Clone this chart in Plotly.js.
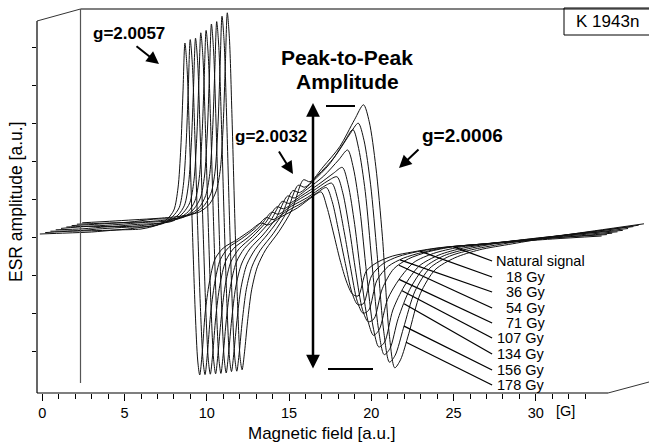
<!DOCTYPE html>
<html>
<head>
<meta charset="utf-8">
<script src="https://cdn.plot.ly/plotly-3.0.1.min.js"></script>
<style>html,body{margin:0;padding:0;background:#fff;}#chart{width:649px;height:442px;}</style>
</head>
<body>
<div id="chart"></div>
<script>
// ---- DATA (own-frame of each spectrum; field in a.u. "G", amplitude in a.u.) ----
const fieldGrid = [-0.15,1.5,3.0,4.5,6.0,7.0,7.6,8.0,8.25,8.42,8.55,8.67,8.8,8.95,9.12,9.3,9.45,9.57,9.72,9.9,10.15,10.5,11.0,11.8,12.6,13.3,13.7,14.5,15.5,16.4,16.95,17.3,17.7,18.1,18.5,18.85,19.2,19.7,20.4,21.3,22.5,24.0,26.0,28.5,31.0,34.0];

const natural = [159,160,161,163,164,168,174,183,205,245,300,350,325,255,165,80,32,18,40,80,110,134,145,153,162,170,168,176,185,196,201,186,160,133,111,99,97,122,131,137,141,145,148,151,154,157];
const gy18  = [159,160.5,161,162,165,168,175,184,206,247,302,352,327,257,166,80,31,17,39,76,108,132,144,153,163,174,172,180,189,199,204,190,160,128,99,87,88,116,128,135,140,144,147,150,154,157];
const gy36  = [159,159.5,161.5,163,164,169,175,185,207,248,303,352,328,258,166,79,30,16,37,73,105,129,142,152,164,178,176,184,193,203,207,192,159,122,89,77,80,110,124,132,138,143,146,150,153,157];
const gy54  = [159,160,162,162.5,165,168,176,186,208,250,306,356,331,260,166,78,29,15,36,69,103,127,140,152,166,182,180,188,198,208,212,196,160,116,79,67,70,100,120,130,137,142,145,149,153,157];
const gy71  = [159,161,161,163,164.5,169,176,187,209,251,307,357,332,261,166,78,28,14,35,68,101,125,139,152,167,186,184,192,203,214,220,203,163,110,67,52,58,88,108,125,134,140,144,148,153,157];
const gy107 = [159,160,161.5,163.5,165,169,177,188,210,253,311,362,336,264,167,77,27,13,34,66,99,122,137,151,168,190,188,197,210,226,236,218,176,113,59,39,44,76,100,120,131,138,143,148,152,157.5];
const gy134 = [159,160.5,162,163,165.5,170,177,189,211,254,312,363,337,265,167,77,26,13,33,64,97,120,135,151,169,194,192,203,220,242,255,236,193,123,56,30,36,66,95,117,129,136,142,147,152,158];
const gy156 = [159,160,161,164,165,170,178,190,212,256,315,367,341,267,168,76,25,12,31,62,94,117,133,150,171,198,196,208,226,248,260,243,199,129,52,21,28,55,92,115,127,134,140,146,151,158];
const gy178 = [159,160.5,162,163.5,166,170,178,191,213,257,317,369,343,268,168,76,24,12,30,60,92,115,132,150,172,202,200,215,235,262,277,260,215,145,50,14,22,48,88,112,124,132,138,145,151,158];

const seriesLabels = ["Natural signal","18 Gy","36 Gy","54 Gy","71 Gy","107 Gy","134 Gy","156 Gy","178 Gy"];
const seriesData = [natural,gy18,gy36,gy54,gy71,gy107,gy134,gy156,gy178];

const xTickVals = [0,5,10,15,20,25,30];
const xMinorVals = [1,2,3,4,6,7,8,9,11,12,13,14,16,17,18,19,21,22,23,24,26,27,28,29,31,32,33];
const yTickVals = [42,80,118,156,194,232,270,308,346];

// ---- STYLE / LAYOUT ----
const DEPTH_DX = 0.322;   // pseudo-3D shift per spectrum (field units)
const DEPTH_DY = 1.4;     // pseudo-3D shift per spectrum (amplitude units)
const L=37, T=9, PW=612, PH=384;
const XR = [-0.3222, 36.881], YR = [0, 384];
function P(px,py){ return {x:(px-L)/PW, y:(T+PH-py)/PH}; }
const FONT = "Liberation Sans, Arial, Helvetica, sans-serif";

const traces = seriesData.map((ys,k)=>({
  type:'scatter', mode:'lines',
  x: fieldGrid.map(v=>v+DEPTH_DX*k),
  y: ys.map(v=>v+DEPTH_DY*k),
  line:{color:'#111', width:1, shape:'spline', smoothing:0.8},
  hoverinfo:'skip', showlegend:false
}));

function interpAt(k, xAbs){
  const xs = fieldGrid.map(v=>v+DEPTH_DX*k), ys = seriesData[k].map(v=>v+DEPTH_DY*k);
  for(let i=0;i<xs.length-1;i++){
    if(xAbs>=xs[i] && xAbs<=xs[i+1]){ const t=(xAbs-xs[i])/(xs[i+1]-xs[i]); return ys[i]+t*(ys[i+1]-ys[i]); }
  }
  return ys[ys.length-1];
}

const shapes = [];
function pline(x0,y0,x1,y1,color,width){
  const a=P(x0,y0), b=P(x1,y1);
  shapes.push({type:'line', xref:'paper', yref:'paper', x0:a.x, y0:a.y, x1:b.x, y1:b.y, line:{color:color, width:width}});
}
// frame
pline(37,21,37,393,'#000',1.2);
pline(37,393,608,393,'#000',1.2);
pline(608,393,649,382,'#333',1);
pline(37,21,80.5,9,'#333',1);
pline(80.5,9,649,9,'#808080',2);
pline(80.5,9,80.5,383,'#555',1.2);
// peak-to-peak level bars
pline(326,106,355,106,'#000',2);
pline(328,369,373,369,'#000',2);
// K 1943n box
(function(){ const a=P(564,8), b=P(652,35);
  shapes.push({type:'rect', xref:'paper', yref:'paper', x0:a.x, y0:b.y, x1:b.x, y1:a.y, line:{color:'#000',width:1}, fillcolor:'rgba(0,0,0,0)'}); })();

// leader lines from spectra to their labels
const leaderStartPx = [453,420,400,399,399,402,404,404,406];
const labelPy = [261,277,292,308,323,338,354,370,385];
const annotations = [];
seriesLabels.forEach((lab,k)=>{
  const xs = (leaderStartPx[k]-42.3)/16.447;
  const ys = interpAt(k, xs);
  const xe = (492-42.3)/16.447, ye = T+PH-labelPy[k];
  shapes.push({type:'line', xref:'x', yref:'y', x0:xs, y0:ys, x1:xe, y1:ye, line:{color:'#000', width:1.3}});
  const pos = k===0 ? P(495,labelPy[k]) : P(546,labelPy[k]);
  annotations.push({xref:'paper', yref:'paper', x:pos.x, y:pos.y, text:lab, showarrow:false, borderpad:0,
    xanchor: k===0?'left':'right', yanchor:'middle', font:{family:FONT, size:14.5, color:'#000'}});
});

function txt(px,py,text,size,bold,extra){
  const p=P(px,py);
  annotations.push(Object.assign({xref:'paper', yref:'paper', x:p.x, y:p.y, text: bold?('<b>'+text+'</b>'):text,
    showarrow:false, xanchor:'center', yanchor:'middle', borderpad:0, font:{family:FONT, size:size, color:'#000'}}, extra||{}));
}
function arrow(x0,y0,x1,y1,width,head,size,side){
  const p=P(x1,y1);
  annotations.push({xref:'paper', yref:'paper', x:p.x, y:p.y, text:'', showarrow:true,
    ax:x0-x1, ay:y0-y1, axref:'pixel', ayref:'pixel', arrowhead:head, arrowsize:size, arrowwidth:width,
    arrowcolor:'#000', arrowside: side||'end', standoff:0, startstandoff:0});
}
txt(129,34,'g=2.0057',17,true);
arrow(135,45,159,64,2,2,1.25);
txt(347,58,'Peak-to-Peak',21,true);
txt(347,81,'Amplitude',21,true);
arrow(313,370,313,103,2.5,2,1.1,'end+start');
txt(271,136,'g=2.0032',17,true);
arrow(278,150,293,174,2,2,1.25);
txt(462,135,'g=2.0006',19,true);
arrow(420,148,399,168,2,2,1.25);
txt(607,22,'K 1943n',17,false);
txt(565,411,'[G]',14.5,false);
txt(321,433,'Magnetic field [a.u.]',17,false);
txt(16,202,'ESR amplitude [a.u.]',17.5,false,{textangle:-90});

const layout = {
  width:649, height:442,
  margin:{l:L, r:0, t:T, b:442-T-PH, pad:0},
  paper_bgcolor:'#fff', plot_bgcolor:'#fff',
  showlegend:false,
  xaxis:{range:XR, showgrid:false, zeroline:false, showline:false,
    tickmode:'array', tickvals:xTickVals, ticktext:xTickVals.map(String),
    ticks:'outside', ticklen:7, tickwidth:1, tickcolor:'#000',
    tickfont:{family:FONT, size:14.5, color:'#000'},
    minor:{tickmode:'array', tickvals:xMinorVals, ticks:'outside', ticklen:5, tickwidth:1, tickcolor:'#000', showgrid:false}},
  yaxis:{range:YR, showgrid:false, zeroline:false, showline:false,
    tickmode:'array', tickvals:yTickVals, showticklabels:false,
    ticks:'outside', ticklen:4, tickwidth:1, tickcolor:'#000'},
  shapes:shapes, annotations:annotations
};
Plotly.newPlot('chart', traces, layout, {staticPlot:true, displayModeBar:false});
</script>
</body>
</html>
